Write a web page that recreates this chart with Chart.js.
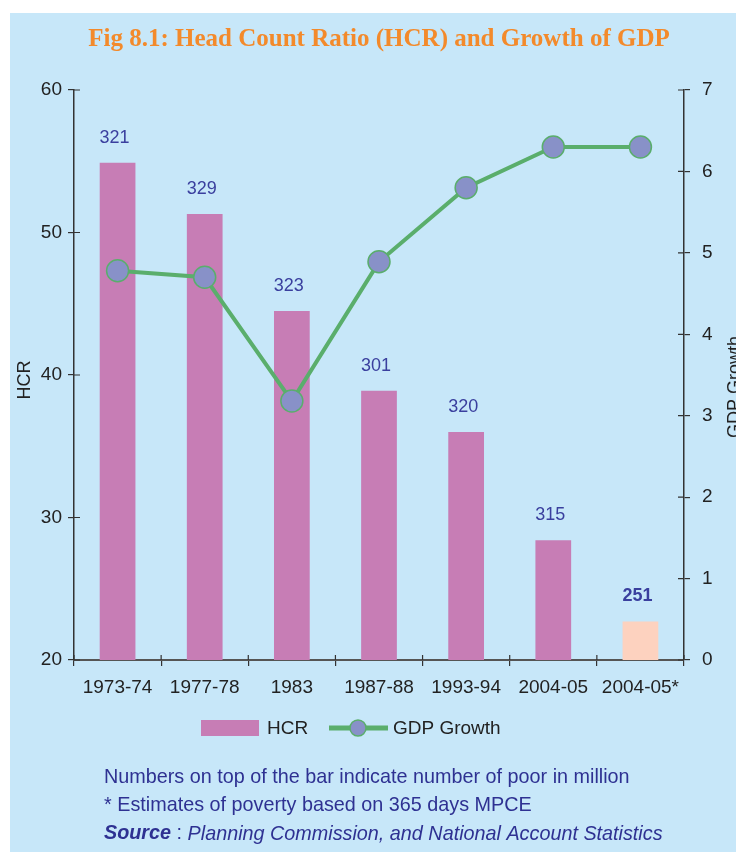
<!DOCTYPE html>
<html>
<head>
<meta charset="utf-8">
<script src="https://cdn.jsdelivr.net/npm/chart.js@4"></script>
<style>
  html, body { margin: 0; padding: 0; background: #fff; }
  #wrap { width: 736px; height: 852px; }
</style>
</head>
<body>
<div id="wrap"><canvas id="hcrChart" width="736" height="852"></canvas></div>
<script>
const years = ["1973-74", "1977-78", "1983", "1987-88", "1993-94", "2004-05", "2004-05*"];
const hcr = [54.9, 51.3, 44.5, 38.9, 36.0, 28.4, 22.7];
const gdpGrowth = [4.78, 4.70, 3.18, 4.89, 5.80, 6.30, 6.30];
const poorMillion = ["321", "329", "323", "301", "320", "315", "251"];
const hcrTicks = [20, 30, 40, 50, 60];
const gdpTicks = [0, 1, 2, 3, 4, 5, 6, 7];

const BG = "#c7e7f9";
const BAR = "#c77db5";
const BAR_STAR = "#fdd2bf";
const GREEN = "#5aae6c";
const MARKER = "#8891c8";
const NAVY = "#2e3192";
const TEXT = "#222222";
const SANS = "'Liberation Sans', Arial, sans-serif";

// fondo, titolo, legenda, note, tacche interne
const decor = {
    id: "decor",
    beforeDraw(chart) {
        const c = chart.ctx;
        c.save();
        c.fillStyle = "#ffffff";
        c.fillRect(0, 0, chart.width, chart.height);
        c.fillStyle = BG;
        c.fillRect(10, 13, chart.width - 10, chart.height - 13);
        c.restore();
    },
    afterDraw(chart) {
        const c = chart.ctx;
        const area = chart.chartArea;
        const x = chart.scales.x, yL = chart.scales.y, yR = chart.scales.y1;
        c.save();

        // titolo
        c.fillStyle = "#f38a2b";
        c.font = "bold 25px 'Liberation Serif', serif";
        c.textAlign = "center";
        c.textBaseline = "middle";
        c.fillText("Fig 8.1: Head Count Ratio (HCR) and Growth of GDP", 379, 40);

        // tacche interne
        c.strokeStyle = "#333";
        c.lineWidth = 1.2;
        c.beginPath();
        hcrTicks.forEach(v => {
            const py = yL.getPixelForValue(v);
            c.moveTo(area.left, py); c.lineTo(area.left + 6, py);
        });
        gdpTicks.forEach(v => {
            const py = yR.getPixelForValue(v);
            c.moveTo(area.right - 6, py); c.lineTo(area.right, py);
        });
        for (let i = 0; i <= years.length; i++) {
            const px = x.getPixelForValue(i - 0.5);
            c.moveTo(px, area.bottom - 5); c.lineTo(px, area.bottom);
        }
        c.stroke();

        // numeri sopra le barre
        const bars = chart.getDatasetMeta(1).data;
        c.fillStyle = "#3a3f9e";
        c.textAlign = "center";
        c.textBaseline = "middle";
        bars.forEach((b, i) => {
            c.font = (i === bars.length - 1 ? "bold " : "") + "18px " + SANS;
            c.fillText(poorMillion[i], b.x - 3, b.y - 25);
        });

        // titoli assi
        c.fillStyle = TEXT;
        c.font = "18px " + SANS;
        c.save();
        c.translate(25, 380);
        c.rotate(-Math.PI / 2);
        c.fillText("HCR", 0, 0);
        c.restore();
        c.save();
        c.translate(735, 387);
        c.rotate(-Math.PI / 2);
        c.fillText("GDP Growth", 0, 0);
        c.restore();

        // legenda
        const ly = 728;
        c.fillStyle = BAR;
        c.fillRect(201, ly - 8, 58, 16);
        c.fillStyle = TEXT;
        c.font = "19px " + SANS;
        c.textAlign = "left";
        c.fillText("HCR", 267, ly + 1);
        c.strokeStyle = GREEN;
        c.lineWidth = 5;
        c.beginPath();
        c.moveTo(329, ly); c.lineTo(388, ly);
        c.stroke();
        c.beginPath();
        c.arc(358, ly, 8, 0, Math.PI * 2);
        c.fillStyle = MARKER;
        c.fill();
        c.lineWidth = 1.5;
        c.stroke();
        c.fillStyle = TEXT;
        c.fillText("GDP Growth", 393, ly + 1);

        // note
        const fs = "19.8px ";
        c.fillStyle = NAVY;
        c.font = fs + SANS;
        c.fillText("Numbers on top of the bar indicate number of poor in million", 104, 778);
        c.fillText("* Estimates of poverty based on 365 days MPCE", 104, 806);
        c.font = "italic bold " + fs + SANS;
        c.fillText("Source", 104, 834);
        const w = c.measureText("Source").width;
        c.font = fs + SANS;
        c.fillText(" : ", 104 + w, 834);
        const w2 = c.measureText(" : ").width;
        c.font = "italic " + fs + SANS;
        c.fillText("Planning Commission, and National Account Statistics", 104 + w + w2, 834);
        c.restore();
    }
};

const ctx = document.getElementById("hcrChart").getContext("2d");
new Chart(ctx, {
    type: "bar",
    data: {
        labels: years,
        datasets: [
            {
                type: "line",
                label: "GDP Growth",
                data: gdpGrowth,
                yAxisID: "y1",
                borderColor: GREEN,
                borderWidth: 4,
                pointRadius: 11,
                pointBackgroundColor: MARKER,
                pointBorderColor: GREEN,
                pointBorderWidth: 1.5,
                tension: 0,
                order: 0
            },
            {
                label: "HCR",
                data: hcr,
                yAxisID: "y",
                backgroundColor: years.map((_, i) => i === years.length - 1 ? BAR_STAR : BAR),
                barPercentage: 0.82,
                categoryPercentage: 0.5,
                order: 1
            }
        ]
    },
    options: {
        responsive: false,
        animation: false,
        layout: { padding: { left: 0, right: 0, top: 90, bottom: 150 } },
        plugins: { legend: { display: false }, tooltip: { enabled: false } },
        scales: {
            x: {
                offset: true,
                grid: { offset: true, drawOnChartArea: false, tickLength: 6, color: "#333", lineWidth: 1.2 },
                border: { color: "#555", width: 2 },
                ticks: { color: TEXT, font: { size: 19, family: SANS }, padding: 10, maxRotation: 0 },
                afterFit: s => { s.height = 42; }
            },
            y: {
                position: "left",
                min: 20, max: 60,
                afterBuildTicks: s => { s.ticks = hcrTicks.map(v => ({ value: v })); },
                grid: { drawOnChartArea: false, tickLength: 6, color: "#333", lineWidth: 1.2 },
                border: { color: "#333", width: 1.5 },
                ticks: { color: TEXT, font: { size: 19, family: SANS }, padding: 6 },
                afterFit: s => { s.width = 74; }
            },
            y1: {
                position: "right",
                min: 0, max: 7,
                afterBuildTicks: s => { s.ticks = gdpTicks.map(v => ({ value: v })); },
                grid: { drawOnChartArea: false, tickLength: 6, color: "#333", lineWidth: 1.2 },
                border: { color: "#333", width: 1.5 },
                ticks: { color: TEXT, font: { size: 19, family: SANS }, padding: 12 },
                afterFit: s => { s.width = 52; }
            }
        }
    },
    plugins: [decor]
});
</script>
</body>
</html>
